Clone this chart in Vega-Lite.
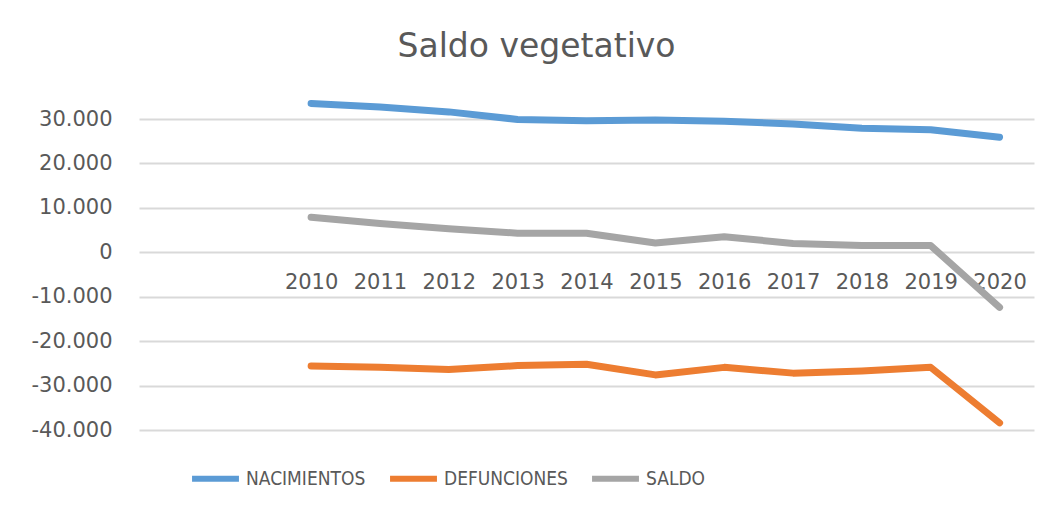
{
  "$schema": "https://vega.github.io/schema/vega-lite/v6.json",
  "width": 895,
  "height": 311,
  "autosize": {"type": "none"},
  "padding": {"left": 139, "top": 119, "right": 23, "bottom": 84},
  "background": "white",
  "config": {
    "view": {"stroke": null},
    "locale": {"number": {"decimal": ",", "thousands": ".", "grouping": [3], "currency": ["", " €"], "minus": "-"}}
  },
  "title": {
    "text": "Saldo vegetativo",
    "font": "DejaVu Sans",
    "fontSize": 33,
    "fontWeight": "normal",
    "color": "#595959",
    "anchor": "middle",
    "frame": "group",
    "dx": -50,
    "offset": 36
  },
  "data": {
    "values": [
      {"year": 2010, "serie": "NACIMIENTOS", "value": 33500},
      {"year": 2011, "serie": "NACIMIENTOS", "value": 32700},
      {"year": 2012, "serie": "NACIMIENTOS", "value": 31600},
      {"year": 2013, "serie": "NACIMIENTOS", "value": 29900},
      {"year": 2014, "serie": "NACIMIENTOS", "value": 29600},
      {"year": 2015, "serie": "NACIMIENTOS", "value": 29800},
      {"year": 2016, "serie": "NACIMIENTOS", "value": 29500},
      {"year": 2017, "serie": "NACIMIENTOS", "value": 28900},
      {"year": 2018, "serie": "NACIMIENTOS", "value": 27900},
      {"year": 2019, "serie": "NACIMIENTOS", "value": 27600},
      {"year": 2020, "serie": "NACIMIENTOS", "value": 25900},
      {"year": 2010, "serie": "DEFUNCIONES", "value": -25600},
      {"year": 2011, "serie": "DEFUNCIONES", "value": -25900},
      {"year": 2012, "serie": "DEFUNCIONES", "value": -26400},
      {"year": 2013, "serie": "DEFUNCIONES", "value": -25500},
      {"year": 2014, "serie": "DEFUNCIONES", "value": -25200},
      {"year": 2015, "serie": "DEFUNCIONES", "value": -27600},
      {"year": 2016, "serie": "DEFUNCIONES", "value": -25900},
      {"year": 2017, "serie": "DEFUNCIONES", "value": -27200},
      {"year": 2018, "serie": "DEFUNCIONES", "value": -26700},
      {"year": 2019, "serie": "DEFUNCIONES", "value": -25900},
      {"year": 2020, "serie": "DEFUNCIONES", "value": -38400},
      {"year": 2010, "serie": "SALDO", "value": 7900},
      {"year": 2011, "serie": "SALDO", "value": 6500},
      {"year": 2012, "serie": "SALDO", "value": 5300},
      {"year": 2013, "serie": "SALDO", "value": 4300},
      {"year": 2014, "serie": "SALDO", "value": 4300},
      {"year": 2015, "serie": "SALDO", "value": 2100},
      {"year": 2016, "serie": "SALDO", "value": 3500},
      {"year": 2017, "serie": "SALDO", "value": 2000},
      {"year": 2018, "serie": "SALDO", "value": 1500},
      {"year": 2019, "serie": "SALDO", "value": 1500},
      {"year": 2020, "serie": "SALDO", "value": -12400}
    ]
  },
  "mark": {"type": "line", "strokeWidth": 7, "strokeCap": "round", "strokeJoin": "round", "clip": false},
  "encoding": {
    "x": {
      "field": "year",
      "type": "quantitative",
      "scale": {"domain": [2007.5, 2020.5], "nice": false, "zero": false},
      "axis": {
        "title": null,
        "values": [2010, 2011, 2012, 2013, 2014, 2015, 2016, 2017, 2018, 2019, 2020],
        "format": "d",
        "grid": false,
        "domain": false,
        "ticks": false,
        "offset": -178,
        "labelPadding": 19,
        "labelFont": "DejaVu Sans",
        "labelFontSize": 21,
        "labelColor": "#595959"
      }
    },
    "y": {
      "field": "value",
      "type": "quantitative",
      "scale": {"domain": [-40000, 30000], "nice": false, "zero": false},
      "axis": {
        "title": null,
        "values": [-40000, -30000, -20000, -10000, 0, 10000, 20000, 30000],
        "format": ",d",
        "grid": true,
        "gridColor": "#D9D9D9",
        "gridWidth": 2,
        "domain": false,
        "ticks": false,
        "labelPadding": 27,
        "labelFont": "DejaVu Sans",
        "labelFontSize": 21,
        "labelColor": "#595959"
      }
    },
    "color": {
      "field": "serie",
      "type": "nominal",
      "scale": {"domain": ["NACIMIENTOS", "DEFUNCIONES", "SALDO"], "range": ["#5B9BD5", "#ED7D31", "#A5A5A5"]},
      "legend": {
        "title": null,
        "orient": "none",
        "direction": "horizontal",
        "legendX": 50,
        "legendY": 333,
        "symbolType": "stroke",
        "symbolSize": 2200,
        "symbolStrokeWidth": 6,
        "labelOffset": 4,
        "columnPadding": 12,
        "labelFont": "DejaVu Sans Condensed, Liberation Sans",
        "labelFontSize": 19,
        "labelColor": "#595959"
      }
    }
  }
}
